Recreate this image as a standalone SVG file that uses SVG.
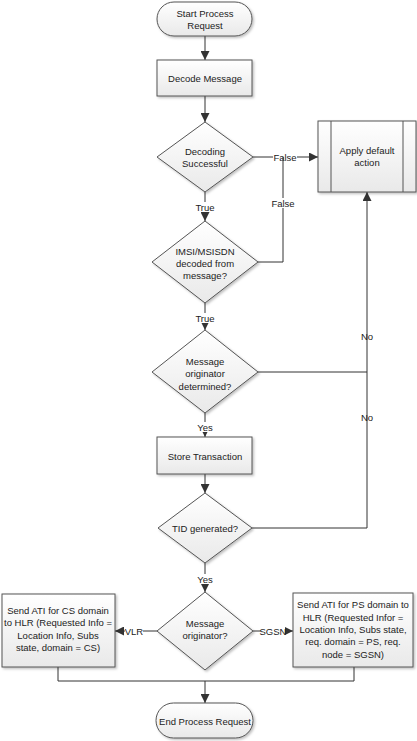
<svg xmlns="http://www.w3.org/2000/svg" width="417" height="741" viewBox="0 0 417 741">
<style>
text{font-family:"Liberation Sans","Noto Sans",Arial,sans-serif;font-size:9.5px;fill:#222;text-anchor:middle;dominant-baseline:central}
.shape{fill:url(#g);stroke:#555;stroke-width:1;filter:url(#sh)}
.c{fill:none;stroke:#333;stroke-width:1}
.a{marker-end:url(#ar)}
.bg{fill:#fff}
</style>
<defs>
<linearGradient id="g" x1="0" y1="0" x2="0" y2="1">
<stop offset="0" stop-color="#ffffff"/>
<stop offset="1" stop-color="#e9e9e9"/>
</linearGradient>
<filter id="sh" x="-10%" y="-10%" width="130%" height="130%">
<feDropShadow dx="1.5" dy="1.5" stdDeviation="1" flood-color="#000" flood-opacity="0.25"/>
</filter>
<marker id="ar" viewBox="0 0 10 10" refX="10" refY="5" markerWidth="9" markerHeight="9" markerUnits="userSpaceOnUse" orient="auto">
<path d="M0,0 L10,5 L0,10 z" fill="#333"/>
</marker>
</defs>

<g id="connectors">
<line class="c a" x1="205" y1="36" x2="205" y2="60"/>
<line class="c a" x1="205" y1="96" x2="205" y2="122"/>
<line class="c a" x1="253" y1="157" x2="318" y2="157"/>
<rect class="bg" x="273" y="152" width="24" height="10"/>
<text x="285" y="157">False</text>
<line class="c a" x1="205" y1="192" x2="205" y2="221"/>
<rect class="bg" x="195" y="202" width="20" height="10"/>
<text x="205" y="207">True</text>
<polyline class="c" points="258,262 283,262 283,157"/>
<rect class="bg" x="271" y="198" width="24" height="10"/>
<text x="283" y="203">False</text>
<line class="c a" x1="205" y1="303" x2="205" y2="330"/>
<rect class="bg" x="195" y="313" width="20" height="10"/>
<text x="205" y="318">True</text>
<line class="c" x1="258" y1="372" x2="367" y2="372"/>
<line class="c a" x1="205" y1="413" x2="205" y2="437"/>
<rect class="bg" x="196" y="422" width="18" height="10"/>
<text x="205" y="427">Yes</text>
<line class="c a" x1="205" y1="474" x2="205" y2="493"/>
<polyline class="c a" points="252,528 367,528 367,192"/>
<text x="367" y="336">No</text>
<text x="367" y="417">No</text>
<line class="c a" x1="205" y1="563" x2="205" y2="592"/>
<rect class="bg" x="196" y="574" width="18" height="10"/>
<text x="205" y="579">Yes</text>
<line class="c a" x1="157" y1="631" x2="115" y2="631"/>
<rect class="bg" x="125" y="626" width="18" height="10"/>
<text x="134" y="631">VLR</text>
<line class="c a" x1="253" y1="631" x2="293" y2="631"/>
<rect class="bg" x="261" y="626" width="24" height="10"/>
<text x="273" y="631">SGSN</text>
<polyline class="c" points="58,667 58,681 354,681 354,667"/>
<line class="c a" x1="205" y1="681" x2="205" y2="703"/>
</g>

<g id="start">
<rect class="shape" x="157" y="2" width="95" height="34" rx="17" ry="17"/>
<text x="205" y="13">Start Process</text>
<text x="205" y="25">Request</text>
</g>

<g id="decode">
<rect class="shape" x="157" y="60" width="95" height="36"/>
<text x="205" y="78">Decode Message</text>
</g>

<g id="decoding-successful">
<polygon class="shape" points="205,122 253,157 205,192 157,157"/>
<text x="205" y="151">Decoding</text>
<text x="205" y="163">Successful</text>
</g>

<g id="apply-default">
<rect class="shape" x="318" y="121" width="98" height="71"/>
<line x1="331" y1="121" x2="331" y2="192" stroke="#555"/>
<line x1="403" y1="121" x2="403" y2="192" stroke="#555"/>
<text x="367" y="150">Apply default</text>
<text x="367" y="162">action</text>
</g>

<g id="imsi-decoded">
<polygon class="shape" points="205,221 258,262 205,303 152,262"/>
<text x="205" y="251">IMSI/MSISDN</text>
<text x="205" y="263">decoded from</text>
<text x="205" y="275">message?</text>
</g>

<g id="originator-determined">
<polygon class="shape" points="205,330 258,372 205,413 152,372"/>
<text x="205" y="361">Message</text>
<text x="205" y="373">originator</text>
<text x="205" y="386">determined?</text>
</g>

<g id="store-transaction">
<rect class="shape" x="157" y="437" width="95" height="37"/>
<text x="205" y="456">Store Transaction</text>
</g>

<g id="tid-generated">
<polygon class="shape" points="205,493 252,528 205,563 158,528"/>
<text x="205" y="528">TID generated?</text>
</g>

<g id="message-originator">
<polygon class="shape" points="205,592 253,631 205,670 157,631"/>
<text x="205" y="623">Message</text>
<text x="205" y="635">originator?</text>
</g>

<g id="send-ati-cs">
<rect class="shape" x="2" y="594" width="113" height="73"/>
<text x="58" y="610">Send ATI for CS domain</text>
<text x="58" y="622">to HLR (Requested Info =</text>
<text x="58" y="635">Location Info, Subs</text>
<text x="58" y="647">state, domain = CS)</text>
</g>

<g id="send-ati-ps">
<rect class="shape" x="293" y="593" width="120" height="74"/>
<text x="353" y="604">Send ATI for PS domain to</text>
<text x="353" y="617">HLR (Requested Infor =</text>
<text x="353" y="629">Location Info, Subs state,</text>
<text x="353" y="641">req. domain = PS, req.</text>
<text x="353" y="654">node = SGSN)</text>
</g>

<g id="end">
<rect class="shape" x="156" y="703" width="97" height="35" rx="17.5" ry="17.5"/>
<text x="205" y="721">End Process Request</text>
</g>
</svg>
